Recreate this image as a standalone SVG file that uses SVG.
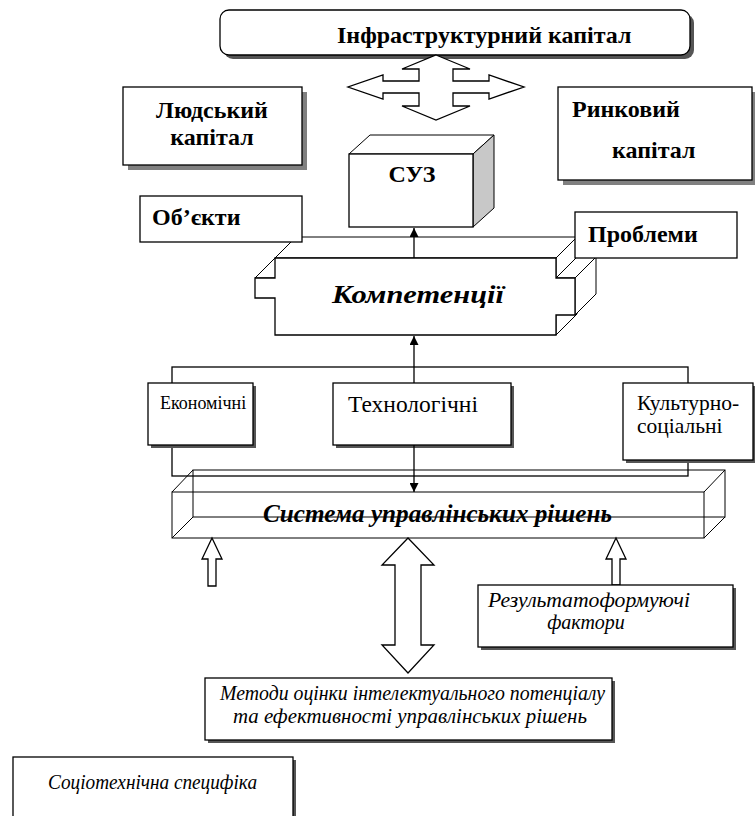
<svg xmlns="http://www.w3.org/2000/svg" width="755" height="816" viewBox="0 0 755 816" font-family="'Liberation Serif', 'DejaVu Serif', serif">
<defs>
<style>
text{font-family:'Liberation Serif','Tinos','DejaVu Serif',serif}
.b{fill:#fff;stroke:#000;stroke-width:1.3}
.w{fill:#fff;stroke:#000;stroke-width:1}
.sh{fill:#808080}
.sd{fill:#555}
.ln{fill:none;stroke:#000;stroke-width:1.3}
.thin{fill:none;stroke:#000;stroke-width:1}
.tb{font-weight:bold;font-size:24px;fill:#000}
.tbi{font-weight:bold;font-style:italic;fill:#000}
.tr{fill:#000}
.ti{font-style:italic;font-size:20px;fill:#000}
</style>
<marker id="ah" viewBox="0 0 10 10" refX="10" refY="5" markerWidth="9" markerHeight="9" markerUnits="userSpaceOnUse" orient="auto">
<path d="M0,0 L10,5 L0,10 z" fill="#000"/>
</marker>
</defs>

<g id="infra">
<rect class="sd" x="224" y="14" width="470" height="45" rx="9"/>
<rect class="b" x="220" y="10" width="470" height="45" rx="9"/>
<text class="tb" x="337" y="43">Інфраструктурний капітал</text>
</g>

<g id="quad-arrow">
<polygon class="b" points="436,55 470,69 453,69 453,81 489,81 489,75 524,87 489,99 489,93 453,93 453,106 470,106 436,120 402,106 419,106 419,93 383,93 383,99 348,87 383,75 383,81 419,81 419,69 402,69"/>
</g>

<g id="human">
<rect class="sh" x="128" y="92" width="179" height="78"/>
<rect class="b" x="123" y="87" width="179" height="78"/>
<text class="tb" x="212" y="118" text-anchor="middle">Людський</text>
<text class="tb" x="212" y="145" text-anchor="middle">капітал</text>
</g>

<g id="market">
<rect class="sh" x="563" y="92" width="194" height="93"/>
<rect class="b" x="558" y="87" width="194" height="93"/>
<text class="tb" x="572" y="117">Ринковий</text>
<text class="tb" x="612" y="158">капітал</text>
</g>

<g id="competencies">
<polygon class="w" points="556,315 556,335 577,314 577,294"/>
<polygon class="w" points="575,278 575,315 596,294 596,257"/>
<polygon class="w" points="556,278 575,278 596,257 577,257"/>
<polygon class="w" points="556,258 556,278 577,257 577,237"/>
<polygon class="w" points="255,278 275,278 296,257 276,257"/>
<polygon class="w" points="275,258 556,258 577,237 296,237"/>
<polygon class="b" points="275,258 556,258 556,278 575,278 575,315 556,315 556,335 275,335 275,298 255,298 255,278 275,278"/>
<text class="tbi" x="332" y="303" font-size="25" textLength="172" lengthAdjust="spacingAndGlyphs">Компетенції</text>
</g>

<g id="suz">
<polygon class="w" points="349,154 473,154 494,135 370,135"/>
<polygon points="473,154 494,135 494,208 473,227" fill="#c8c8c8" stroke="#000" stroke-width="1"/>
<rect class="b" x="349" y="154" width="124" height="73"/>
<text class="tb" x="412" y="182" text-anchor="middle">СУЗ</text>
</g>

<g id="objects">
<rect class="b" x="140" y="196" width="162" height="46"/>
<text class="tb" x="152" y="225">Об’єкти</text>
</g>

<g id="problems">
<rect class="b" x="575" y="212" width="162" height="46"/>
<text class="tb" x="588" y="242">Проблеми</text>
</g>

<g id="frame">
<rect class="ln" x="172" y="367" width="516" height="109"/>
</g>

<g id="economic">
<rect class="sd" x="151" y="386" width="105" height="62"/>
<rect class="b" x="148" y="383" width="105" height="62"/>
<text class="tr" x="160" y="409" font-size="18">Економічні</text>
</g>

<g id="technological">
<rect class="sd" x="336" y="386" width="178" height="62"/>
<rect class="b" x="333" y="383" width="178" height="62"/>
<text class="tr" x="348" y="412" font-size="23.5">Технологічні</text>
</g>

<g id="cultural">
<rect class="sd" x="626" y="386" width="130" height="77"/>
<rect class="b" x="623" y="383" width="130" height="77"/>
<text class="tr" x="637" y="410" font-size="21.5">Культурно-</text>
<text class="tr" x="637" y="433" font-size="21.5">соціальні</text>
</g>

<g id="decisions">
<rect class="thin" x="193" y="470" width="532" height="47"/>
<rect class="thin" x="172" y="492" width="532" height="46"/>
<line class="thin" x1="172" y1="492" x2="193" y2="470"/>
<line class="thin" x1="704" y1="492" x2="725" y2="470"/>
<line class="thin" x1="704" y1="538" x2="725" y2="517"/>
<line class="thin" x1="172" y1="538" x2="193" y2="517"/>
<text class="tbi" x="263" y="522" font-size="25" textLength="349" lengthAdjust="spacingAndGlyphs">Система управлінських рішень</text>
</g>

<g id="connectors">
<line class="ln" x1="414" y1="258" x2="414" y2="228" marker-end="url(#ah)"/>
<line class="ln" x1="414" y1="383" x2="414" y2="336" marker-end="url(#ah)"/>
<line class="ln" x1="414" y1="445" x2="414" y2="492" marker-end="url(#ah)"/>
<polygon class="b" points="212,538 222,559 216,559 216,586 208,586 208,559 202,559"/>
<polygon class="b" points="616,538 626,559 620,559 620,585 612,585 612,559 606,559"/>
<polygon class="b" points="408,538 434,565 421,565 421,645 434,645 408,673 382,645 395,645 395,565 382,565"/>
</g>

<g id="factors">
<rect class="sd" x="481" y="588" width="255" height="62"/>
<rect class="b" x="478" y="585" width="255" height="62"/>
<text class="ti" x="488" y="607" textLength="202" lengthAdjust="spacingAndGlyphs">Результатоформуючі</text>
<text class="ti" x="586" y="629" text-anchor="middle">фактори</text>
</g>

<g id="methods">
<rect class="sd" x="208" y="681" width="407" height="62"/>
<rect class="b" x="205" y="678" width="407" height="62"/>
<text class="ti" x="220" y="700" textLength="385" lengthAdjust="spacingAndGlyphs">Методи оцінки інтелектуального потенціалу</text>
<text class="ti" x="233" y="723" textLength="354" lengthAdjust="spacingAndGlyphs">та ефективності управлінських рішень</text>
</g>

<g id="socio">
<rect class="sd" x="16" y="760" width="280" height="80"/>
<rect class="b" x="13" y="757" width="280" height="80"/>
<text class="ti" x="48" y="789" textLength="209" lengthAdjust="spacingAndGlyphs">Соціотехнічна специфіка</text>
</g>
</svg>
